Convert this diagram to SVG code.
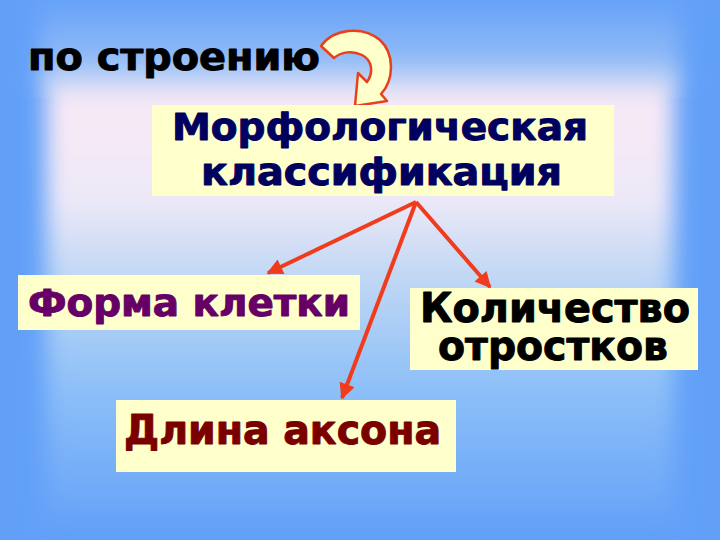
<svg xmlns="http://www.w3.org/2000/svg" width="720" height="540" viewBox="0 0 720 540">
<defs>
<linearGradient id="inner" x1="0" y1="0" x2="0" y2="1">
<stop offset="0" stop-color="#b4cff6"/>
<stop offset="0.06" stop-color="#f9e9f6"/>
<stop offset="0.28" stop-color="#eee9f8"/>
<stop offset="0.45" stop-color="#c2d8f4"/>
<stop offset="0.7" stop-color="#8ec0f8"/>
<stop offset="1" stop-color="#68a4f8"/>
</linearGradient>
<linearGradient id="topband" x1="0" y1="0" x2="0" y2="1">
<stop offset="0" stop-color="#66a2f8"/>
<stop offset="1" stop-color="#a8c8f6"/>
</linearGradient>
<filter id="blur" x="-10%" y="-10%" width="120%" height="120%">
<feGaussianBlur stdDeviation="11"/>
</filter>
<marker id="ah" viewBox="0 0 10 10" refX="9" refY="5" markerWidth="4.5" markerHeight="4" orient="auto" markerUnits="strokeWidth">
<path d="M0,0 L10,5 L0,10 Z" fill="#f03c1c"/>
</marker>
<style>
.box{fill:#ffffcc}
.t{font-family:"DejaVu Sans Condensed","DejaVu Sans","Liberation Sans",sans-serif;font-stretch:condensed;font-weight:bold;text-anchor:start;stroke-width:0.9;stroke-linejoin:round}
.conn{stroke:#f03c1c;stroke-width:4;fill:none;marker-end:url(#ah)}
</style>
</defs>
<g id="background">
<rect x="0" y="0" width="720" height="540" fill="#62a0f8"/>
<rect x="40" y="0" width="640" height="90" fill="url(#topband)" filter="url(#blur)"/>
<rect x="46" y="72" width="628" height="448" fill="url(#inner)" filter="url(#blur)"/>
</g>
<g id="title">
<text class="t" x="28" y="70" font-size="38" fill="#000000" stroke="#000000" textLength="292" lengthAdjust="spacingAndGlyphs">по строению</text>
</g>
<g id="curved-arrow">
<path d="M321,46 C333,29 362,25 380,40 C395,54 394,80 381,94 L387,101 L355,106 L358,73 L367,82 C374,72 372,60 362,55 C352,50 341,52 334,58 Z" fill="#ffffcc" stroke="#e8401a" stroke-width="2.5" stroke-linejoin="round"/>
</g>
<g id="connectors">
<line class="conn" x1="416" y1="202" x2="268" y2="273"/>
<line class="conn" x1="416" y1="202" x2="490" y2="287"/>
<line class="conn" x1="416" y1="202" x2="342" y2="398"/>
</g>
<g id="node-main">
<rect class="box" x="152" y="105" width="462" height="91"/>
<text class="t" x="172" y="140" font-size="37" fill="#00005e" stroke="#00005e" textLength="416" lengthAdjust="spacingAndGlyphs">Морфологическая</text>
<text class="t" x="201" y="185" font-size="37" fill="#00005e" stroke="#00005e" textLength="361" lengthAdjust="spacingAndGlyphs">классификация</text>
</g>
<g id="node-forma">
<rect class="box" x="18" y="275" width="342" height="55"/>
<text class="t" x="28" y="316" font-size="37" fill="#660066" stroke="#660066" textLength="322" lengthAdjust="spacingAndGlyphs">Форма клетки</text>
</g>
<g id="node-kolichestvo">
<rect class="box" x="410" y="288" width="288" height="82"/>
<text class="t" x="420" y="322" font-size="40" fill="#000000" stroke="#000000" textLength="270" lengthAdjust="spacingAndGlyphs">Количество</text>
<text class="t" x="438" y="360" font-size="40" fill="#000000" stroke="#000000" textLength="230" lengthAdjust="spacingAndGlyphs">отростков</text>
</g>
<g id="node-dlina">
<rect class="box" x="116" y="400" width="340" height="72"/>
<text class="t" x="124" y="444" font-size="40" fill="#7a0000" stroke="#7a0000" textLength="317" lengthAdjust="spacingAndGlyphs">Длина аксона</text>
</g>
</svg>
